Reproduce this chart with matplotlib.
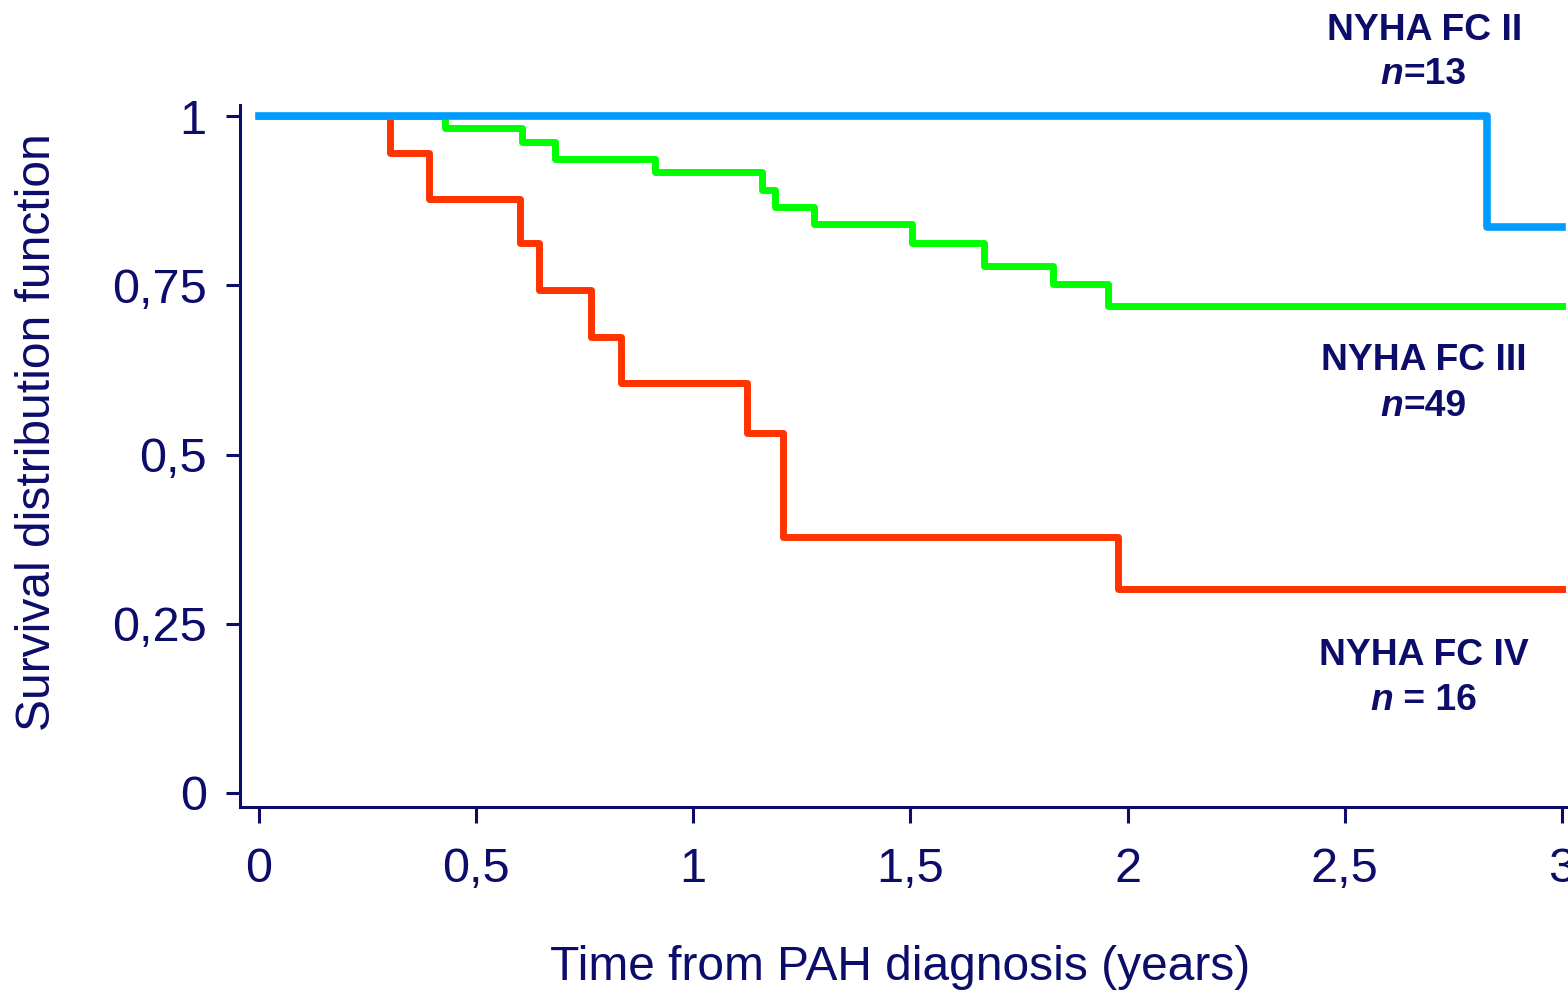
import numpy as np
import matplotlib.pyplot as plt

# Kaplan-Meier curves (time in years, survival)
fc2_time = [0, 2.828, 3.0]
fc2_surv = [1.0, 0.836, 0.836]

fc3_time = [0, 0.428, 0.605, 0.682, 0.912, 1.158, 1.188, 1.278, 1.504, 1.670, 1.829, 1.955, 3.0]
fc3_surv = [1.0, 0.982, 0.962, 0.937, 0.917, 0.890, 0.865, 0.840, 0.812, 0.779, 0.752, 0.720, 0.720]

fc4_time = [0, 0.302, 0.391, 0.601, 0.645, 0.764, 0.834, 1.124, 1.207, 1.978, 3.0]
fc4_surv = [1.0, 0.945, 0.877, 0.812, 0.743, 0.674, 0.606, 0.532, 0.378, 0.301, 0.301]

x_ticks = [0, 0.5, 1, 1.5, 2, 2.5, 3]
x_labels = ['0', '0,5', '1', '1,5', '2', '2,5', '3']
y_ticks = [0, 0.25, 0.5, 0.75, 1]
y_labels = ['0', '0,25', '0,5', '0,75', '1']

navy = '#0c0c6a'
plt.rcParams['font.family'] = ['Liberation Sans', 'DejaVu Sans']

fig = plt.figure(figsize=(15.68, 9.93), dpi=100)
ax = fig.add_axes([240 / 1568, (993 - 807) / 993, 1328 / 1568, 702 / 993])

ax.step(fc4_time, fc4_surv, where='post', color='#ff3300', lw=5, zorder=3)
ax.step(fc3_time, fc3_surv, where='post', color='#00ff00', lw=5, zorder=3)
ax.step(fc2_time, fc2_surv, where='post', color='#009cff', lw=5.5, zorder=4)

ax.set_xlim(-0.0437, 3.014)
ax.set_ylim(-0.0207, 1.0163)

ax.set_xticks(x_ticks)
ax.set_xticklabels(x_labels)
ax.set_yticks(y_ticks)
ax.set_yticklabels(y_labels)

for side in ['top', 'right']:
    ax.spines[side].set_visible(False)
for side in ['left', 'bottom']:
    ax.spines[side].set_color(navy)
    ax.spines[side].set_linewidth(2.2)

ax.tick_params(axis='x', length=11.5, width=2.2, color=navy, labelcolor=navy,
               labelsize=35, pad=17)
ax.tick_params(axis='y', length=10, width=2.2, color=navy, labelcolor=navy,
               labelsize=35, pad=14)

ax.set_xlabel('Time from PAH diagnosis (years)', fontsize=34.5, color=navy)
ax.set_ylabel('Survival distribution function', fontsize=34.5, color=navy)
# label centres (pixels -> axes fraction)
ax.xaxis.set_label_coords((900 - 240) / 1328, (807 - 968) / 702)
ax.yaxis.set_label_coords((38 - 240) / 1328, (807 - 432) / 702)
ax.xaxis.label.set_va('center')
ax.yaxis.label.set_va('center')

# group labels
def group_label(title, y_title, y_n, split_x, rest):
    ax.text(2.683, y_title, title, ha='center', va='center', fontsize=26.8,
            fontweight='bold', color=navy, clip_on=False)
    ax.text(split_x, y_n, 'n', ha='right', va='center', fontsize=26.8,
            fontweight='bold', fontstyle='italic', color=navy, clip_on=False)
    ax.text(split_x, y_n, rest, ha='left', va='center', fontsize=26.8,
            fontweight='bold', color=navy, clip_on=False)

group_label('NYHA FC II', 1.127, 1.062, 2.635, '=13')
group_label('NYHA FC III', 0.639, 0.571, 2.635, '=49')
group_label('NYHA FC IV', 0.203, 0.136, 2.612, ' = 16')

fig.savefig('out.png', dpi=100)
